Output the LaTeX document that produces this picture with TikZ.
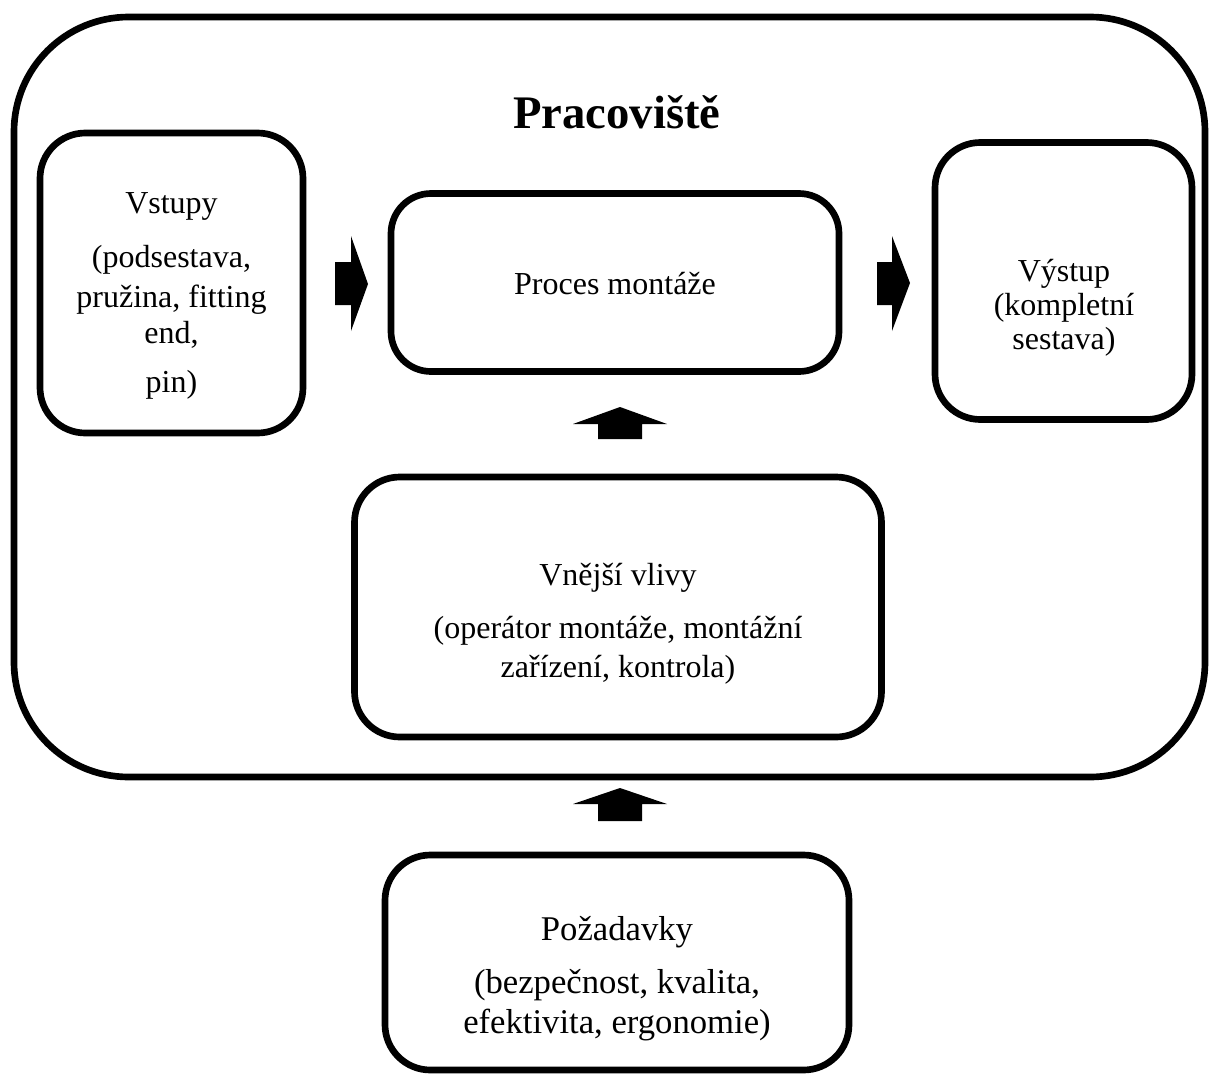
\documentclass[tikz,border=0pt]{standalone}
\usepackage{fontspec}
\setmainfont{Liberation Serif}
\begin{document}
\begin{tikzpicture}[x=0.75pt,y=-0.75pt,
  box/.style={draw,line width=5pt,inner sep=0pt,rectangle,rounded corners=#1},
  box/.default=32pt,
  txt/.style={align=center,inner sep=0pt,font=\fontsize{24}{30}\selectfont},
  blockarrow/.style={fill=black}]
\useasboundingbox (0,0) rectangle (1211,1075);
% outer workplace frame
\node[box=86pt,minimum width=893.25pt,minimum height=570pt] (prac) at (609.5,397) {};
\node[anchor=base,inner sep=0pt,font=\fontsize{35}{40}\selectfont\bfseries] (pracT) at (617,128) {Pracoviště};
% boxes
\node[box=34pt,minimum width=197.25pt,minimum height=225pt] (vstupy) at (171.5,283) {};
\node[box=30pt,minimum width=336pt,minimum height=133.5pt] (proces) at (615,282.5) {};
\node[box=34pt,minimum width=192.75pt,minimum height=207.75pt] (vystup) at (1063.5,281) {};
\node[box=34pt,minimum width=395.25pt,minimum height=195pt] (vlivy) at (618,607) {};
\node[box=34pt,minimum width=348pt,minimum height=161.25pt] (pozad) at (617,962.5) {};
% texts
\node[txt,anchor=north] (vstupyT) at (171.5,192) {Vstupy\\[10.5pt](podsestava,\\pružina, fitting\\[-3pt]end,\\[7pt]pin)};
\node[txt,anchor=base] (procesT) at (615,294) {Proces montáže};
\node[txt,anchor=north,font=\fontsize{24}{25.5}\selectfont] (vystupT) at (1064,259) {Výstup\\(kompletní\\sestava)};
\node[txt,anchor=north] (vlivyT) at (618,563) {Vnější vlivy\\[10pt](operátor montáže, montážní\\[-1pt]zařízení, kontrola)};
\node[txt,anchor=north,font=\fontsize{26}{30.5}\selectfont] (pozadT) at (617,916) {Požadavky\\[9pt](bezpečnost, kvalita,\\efektivita, ergonomie)};
% block arrows
\fill[blockarrow] (335,262) -- (351,262) -- (351,236) -- (368,284) -- (351,331) -- (351,305) -- (335,305) -- cycle;
\fill[blockarrow] (877,262) -- (892,262) -- (892,236) -- (910,283) -- (892,331) -- (892,305) -- (877,305) -- cycle;
\fill[blockarrow] (598,439) -- (598,424) -- (573,424) -- (620,407) -- (667,424) -- (642,424) -- (642,439) -- cycle;
\fill[blockarrow] (598,821) -- (598,804) -- (573,804) -- (620,788) -- (667,804) -- (642,804) -- (642,821) -- cycle;
\end{tikzpicture}
\end{document}
